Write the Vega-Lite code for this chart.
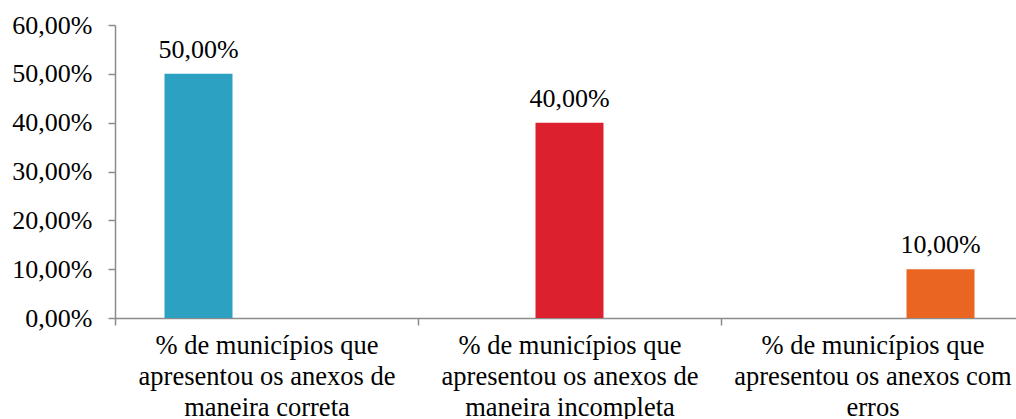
{
  "$schema": "https://vega.github.io/schema/vega-lite/v6.json",
  "width": 901,
  "height": 293,
  "autosize": {"type": "none"},
  "padding": {"left": 115, "top": 25, "right": 0, "bottom": 101},
  "config": {
    "view": {"stroke": null},
    "font": "Liberation Serif",
    "locale": {"number": {"decimal": ",", "thousands": ".", "grouping": [3], "currency": ["R$", ""]}}
  },
  "data": {"values": [
    {"categoria": "% de municípios que|apresentou os anexos de|maneira correta", "serie": "correta", "valor": 0.5},
    {"categoria": "% de municípios que|apresentou os anexos de|maneira incompleta", "serie": "incompleta", "valor": 0.4},
    {"categoria": "% de municípios que|apresentou os anexos com|erros", "serie": "erros", "valor": 0.1}
  ]},
  "encoding": {
    "x": {
      "field": "categoria", "type": "nominal", "sort": null,
      "scale": {"range": [0, 909], "paddingInner": 0, "paddingOuter": 0},
      "axis": {
        "title": null, "labelAngle": 0, "labelExpr": "split(datum.label, '|')",
        "tickBand": "extent", "tickSize": 7, "tickColor": "#8c8c8c", "domainColor": "#8c8c8c", "domainWidth": 1.5, "tickWidth": 1.5,
        "labelFontSize": 26.5, "labelLineHeight": 31, "labelPadding": 7, "labelLimit": 0, "labelOverlap": false, "labelColor": "black", "labelFont": "Liberation Serif"
      }
    },
    "xOffset": {
      "field": "serie", "type": "nominal", "sort": ["correta", "incompleta", "erros"],
      "scale": {"paddingInner": 0, "paddingOuter": 0.728}
    },
    "y": {
      "field": "valor", "type": "quantitative",
      "scale": {"domain": [0, 0.6], "nice": false},
      "axis": {
        "title": null, "grid": false, "values": [0, 0.1, 0.2, 0.3, 0.4, 0.5, 0.6], "format": ".2%",
        "tickSize": 7, "tickColor": "#8c8c8c", "domainColor": "#8c8c8c", "domainWidth": 1.5, "tickWidth": 1.5,
        "labelFontSize": 26, "labelPadding": 16, "labelColor": "black", "labelFont": "Liberation Serif"
      }
    }
  },
  "layer": [
    {
      "mark": {"type": "bar"},
      "encoding": {
        "color": {
          "field": "serie", "type": "nominal",
          "scale": {"domain": ["correta", "incompleta", "erros"], "range": ["#2ca1c1", "#dc202e", "#ea6521"]},
          "legend": null
        }
      }
    },
    {
      "mark": {"type": "text", "baseline": "alphabetic", "dy": -16, "fontSize": 26, "font": "Liberation Serif", "color": "black"},
      "encoding": {"text": {"field": "valor", "type": "quantitative", "format": ".2%"}}
    }
  ]
}
